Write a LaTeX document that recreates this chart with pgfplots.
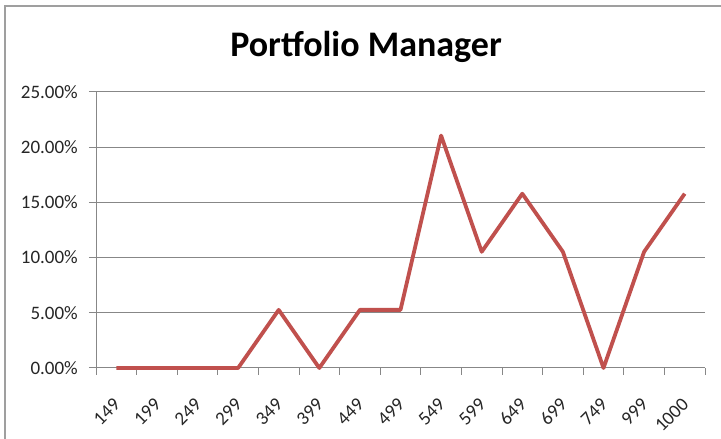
\documentclass[border=0pt]{standalone}
\usepackage{fontspec}
\setmainfont{Carlito}
\usepackage{pgfplots}
\pgfplotsset{compat=1.18}
\definecolor{exred}{HTML}{C0504D}
\definecolor{exgray}{HTML}{878787}
\begin{document}
\begin{tikzpicture}
\useasboundingbox (0pt,0pt) rectangle (721pt,439pt);
\fill[white] (0pt,0pt) rectangle (721pt,439pt);
\draw[exgray!80, line width=1.2pt] (5pt,-2pt) -- (5pt,433pt) -- (725pt,433pt);
\node[font=\fontsize{36}{40}\selectfont\bfseries] at (366pt,392pt) {Portfolio Manager};
\begin{axis}[
  scale only axis,
  width=609pt, height=276pt,
  anchor=south west, at={(96pt,71pt)},
  xmin=-0.5, xmax=14.5,
  ymin=0, ymax=25,
  axis lines*=left,
  axis line style={exgray, line width=1pt},
  tick align=outside,
  major tick length=7pt,
  minor tick length=7pt,
  xtick={0,...,14},
  xticklabels={149,199,249,299,349,399,449,499,549,599,649,699,749,999,1000},
  minor xtick={-0.5,0.5,...,14.5},
  x tick style={draw=none},
  minor x tick style={draw=exgray, line width=1pt},
  ytick={0,5,10,15,20,25},
  yticklabels={0.00\%,5.00\%,10.00\%,15.00\%,20.00\%,25.00\%},
  y tick style={exgray, line width=1pt},
  ymajorgrids,
  major grid style={exgray, line width=1pt},
  tick label style={font=\fontsize{19}{22}\selectfont, text=black!85},
  xticklabel style={rotate=45, anchor=east, inner sep=0pt, xshift=-18pt, yshift=-19pt},
  yticklabel style={inner sep=0pt, xshift=-11pt},
  /pgf/number format/assume math mode=true,
  clip=false,
]
\addplot[exred, line width=3.8pt, line join=round] coordinates {
(0,0) (1,0) (2,0) (3,0) (4,5.263) (5,0) (6,5.263) (7,5.263) (8,21.053) (9,10.526) (10,15.789) (11,10.526) (12,0) (13,10.526) (14,15.789)
};
\end{axis}
\end{tikzpicture}
\end{document}
